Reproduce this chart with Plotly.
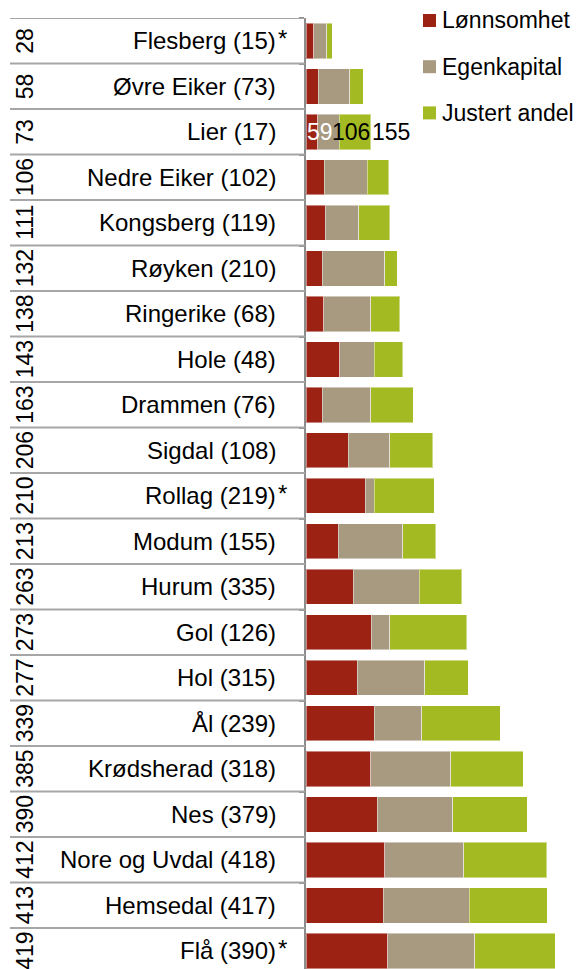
import plotly.graph_objects as go

# Municipalities (top to bottom), previous-year rank in parentheses, flag for asterisk
kommuner = ["Flesberg", "Øvre Eiker", "Lier", "Nedre Eiker", "Kongsberg", "Røyken",
            "Ringerike", "Hole", "Drammen", "Sigdal", "Rollag", "Modum", "Hurum",
            "Gol", "Hol", "Ål", "Krødsherad", "Nes", "Nore og Uvdal", "Hemsedal", "Flå"]
fjor = [15, 73, 17, 102, 119, 210, 68, 48, 76, 108, 219, 155, 335,
        126, 315, 239, 318, 379, 418, 417, 390]
stjerne = [True, False, False, False, False, False, False, False, False, False, True,
           False, False, False, False, False, False, False, False, False, True]
plassering = [28, 58, 73, 106, 111, 132, 138, 143, 163, 206, 210, 213, 263,
              273, 277, 339, 385, 390, 412, 413, 419]

# Component ranks
lonnsomhet = [38, 61, 59, 91, 96, 81, 87, 166, 81, 209, 293, 160, 234,
              323, 254, 338, 320, 353, 389, 381, 405]
egenkapital = [64, 155, 106, 211, 165, 308, 232, 171, 239, 204, 44, 318, 326,
               91, 333, 234, 396, 372, 391, 425, 428]
justert_andel = [28, 66, 155, 107, 153, 63, 145, 142, 211, 214, 298, 163, 209,
                 381, 214, 387, 358, 369, 410, 386, 400]

serier = [("Lønnsomhet", lonnsomhet, "#9c2314"),
          ("Egenkapital", egenkapital, "#a89a80"),
          ("Justert andel", justert_andel, "#a4ba22")]

W, H = 577, 969
L, T = 306, 18
ROW = 45.5
PX_PER_UNIT = 0.2023
plot_w = W - L
plot_h = H - T
n = len(kommuner)
rows = list(range(n))

FONT = "Arial, Liberation Sans, sans-serif"
FS = 24

def px_x(px):
    return (px - L) / plot_w

def px_y(px):
    return 1 - (px - T) / plot_h

fig = go.Figure()
for navn, verdier, farge in serier:
    fig.add_trace(go.Bar(
        y=rows, x=verdier, orientation="h", name=navn,
        marker=dict(color=farge, line=dict(color="rgba(255,255,255,0.45)", width=1)),
        hoverinfo="x+name", showlegend=False,
    ))

annotations = []
shapes = []
for i in rows:
    # municipality name, right aligned
    annotations.append(dict(
        x=px_x(277), xref="paper", y=i, yref="y", borderpad=0,
        text=f"{kommuner[i]} ({fjor[i]})", xanchor="right", yanchor="middle",
        showarrow=False, font=dict(family=FONT, size=FS, color="#000000")))
    if stjerne[i]:
        annotations.append(dict(
            x=px_x(277), xref="paper", y=i - 0.04, yref="y", text="*", borderpad=0,
            xanchor="left", yanchor="middle", showarrow=False,
            font=dict(family=FONT, size=FS, color="#000000")))
    # overall rank, rotated
    annotations.append(dict(
        x=px_x(25), xref="paper", y=i, yref="y",
        text=str(plassering[i]), textangle=-90, xanchor="center", yanchor="middle",
        showarrow=False, font=dict(family=FONT, size=23, color="#000000")))

# table row separators
for b in range(n + 1):
    shapes.append(dict(type="line", xref="paper", yref="y",
                       x0=px_x(10), x1=px_x(305), y0=b - 0.5, y1=b - 0.5,
                       line=dict(color="#a6a6a6", width=2)))

# value labels on the Lier row
li = kommuner.index("Lier")
total = lonnsomhet[li] + egenkapital[li] + justert_andel[li]
annotations += [
    dict(x=0, y=li, xref="x", yref="y", text=str(lonnsomhet[li]), xanchor="left",
         yanchor="middle", showarrow=False, borderpad=0,
         font=dict(family=FONT, size=23, color="#ffffff")),
    dict(x=total, y=li, xref="x", yref="y", text=str(egenkapital[li]), xanchor="right",
         yanchor="middle", showarrow=False, borderpad=0,
         font=dict(family=FONT, size=23, color="#000000")),
    dict(x=total, y=li, xref="x", yref="y", text=str(justert_andel[li]), xanchor="left",
         yanchor="middle", showarrow=False, borderpad=0,
         font=dict(family=FONT, size=23, color="#000000")),
]

# legend: colour keys with labels
for k, (navn, _, farge) in enumerate(serier):
    cy = 20.5 + 46.2 * k
    shapes.append(dict(type="rect", xref="paper", yref="paper",
                       x0=px_x(423), x1=px_x(436), y0=px_y(cy - 6.5), y1=px_y(cy + 6.5),
                       fillcolor=farge, line=dict(width=0)))
    annotations.append(dict(x=px_x(441), xref="paper", y=px_y(cy), yref="paper",
                            text=navn, xanchor="left", yanchor="middle", showarrow=False,
                            borderpad=0, font=dict(family=FONT, size=23, color="#000000")))

fig.update_layout(
    width=W, height=H,
    margin=dict(l=L, r=0, t=T, b=0, pad=0),
    barmode="stack", bargap=0.22,
    paper_bgcolor="white", plot_bgcolor="white",
    font=dict(family=FONT, size=FS, color="#000000"),
    xaxis=dict(range=[0, plot_w / PX_PER_UNIT], showgrid=False, zeroline=False,
               showticklabels=False, ticks="", showline=False, fixedrange=True),
    yaxis=dict(range=[-0.5 + plot_h / ROW, -0.5], showgrid=False, zeroline=False,
               showline=True, linecolor="#8c8c8c", linewidth=2,
               tickmode="array", tickvals=[b - 0.5 for b in range(n + 1)],
               ticks="outside", ticklen=5, tickwidth=2, tickcolor="#8c8c8c",
               showticklabels=False, fixedrange=True),
    showlegend=False,
    annotations=annotations, shapes=shapes,
)

fig.write_html("out.html")
